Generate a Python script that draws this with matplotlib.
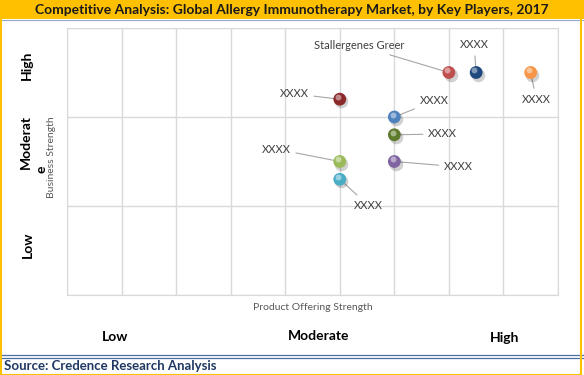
import matplotlib.pyplot as plt
import matplotlib.transforms as mtransforms
from matplotlib.patches import Rectangle
from matplotlib.lines import Line2D

plt.rcParams['font.family'] = ['Lato', 'DejaVu Sans']

# data: product offering strength (x) vs business strength (y)
names = ['Stallergenes Greer', 'XXXX', 'XXXX', 'XXXX', 'XXXX', 'XXXX', 'XXXX', 'XXXX', 'XXXX']
x_vals = [7.0, 7.5, 8.5, 5.0, 6.0, 6.0, 6.0, 5.0, 5.0]
y_vals = [2.5, 2.5, 2.5, 2.2, 2.0, 1.8, 1.5, 1.5, 1.3]
colors = ['#C0504D', '#1F497D', '#F79646', '#8B2A2A', '#4F81BD', '#5E7A2C', '#8064A2', '#9BBB59', '#4BACC6']
label_x = [6.19, 7.46, 8.60, 4.16, 6.73, 6.89, 7.18, 3.83, 5.52]
label_y = [2.80, 2.81, 2.20, 2.26, 2.18, 1.81, 1.44, 1.64, 1.01]
label_ha = ['right', 'center', 'center', 'center', 'center', 'center', 'center', 'center', 'center']

fig = plt.figure(figsize=(5.84, 3.75), dpi=100)
W, H = 584, 375

ax = fig.add_axes([67 / W, (H - 295) / H, (558 - 67) / W, (295 - 28) / H])
ax.set_xlim(0, 9)
ax.set_ylim(0, 3)
ax.set_xticks(range(0, 10))
ax.set_yticks(range(0, 4))
ax.tick_params(length=0, labelbottom=False, labelleft=False)
ax.grid(True, color='#D9D9D9', linewidth=1)
for s in ax.spines.values():
    s.set_color('#D9D9D9')
ax.set_axisbelow(True)

# leader lines + labels
for n, xv, yv, lx, ly, ha in zip(names, x_vals, y_vals, label_x, label_y, label_ha):
    ax.annotate(n, xy=(xv, yv), xytext=(lx, ly), ha=ha, va='center',
                fontsize=8, color='#404040',
                arrowprops=dict(arrowstyle='-', color='#A6A6A6', lw=0.8,
                                shrinkA=2, shrinkB=0))

# spheres: shadow, body, highlight
shadow = mtransforms.offset_copy(ax.transData, fig=fig, x=1.2, y=-1.5, units='points')
ax.scatter(x_vals, y_vals, s=95, color='#000000', alpha=0.18, transform=shadow, zorder=3, linewidths=0)
ax.scatter(x_vals, y_vals, s=85, c=colors, edgecolors='none', zorder=4)
hl = mtransforms.offset_copy(ax.transData, fig=fig, x=-1.2, y=1.5, units='points')
ax.scatter(x_vals, y_vals, s=18, color='white', alpha=0.45, transform=hl, zorder=5, linewidths=0)

# axis titles
fig.text(313 / W, 1 - 308 / H, 'Product Offering Strength', ha='center', va='center',
         fontsize=7.5, color='#595959')
fig.text(52 / W, 1 - 157 / H, 'Business Strength', ha='center', va='center',
         rotation=90, fontsize=7.5, color='#595959')

# level labels
fig.text(27 / W, 1 - 65 / H, 'High', ha='center', va='center', rotation=90,
         fontsize=10, fontweight='bold')
fig.text(26 / W, 1 - 142 / H, 'Moderat', ha='center', va='center', rotation=90,
         fontsize=10, fontweight='bold')
fig.text(42 / W, 1 - 169 / H, 'e', ha='center', va='center', rotation=90,
         fontsize=10, fontweight='bold')
fig.text(28 / W, 1 - 245 / H, 'Low', ha='center', va='center', rotation=90,
         fontsize=10, fontweight='bold')
fig.text(115 / W, 1 - 337 / H, 'Low', ha='center', va='center', fontsize=10, fontweight='bold')
fig.text(319 / W, 1 - 336 / H, 'Moderate', ha='center', va='center', fontsize=10, fontweight='bold')
fig.text(505 / W, 1 - 338 / H, 'High', ha='center', va='center', fontsize=10, fontweight='bold')

# title bar
fig.patches.append(Rectangle((0, 1 - 19 / H), 1, 19 / H, transform=fig.transFigure,
                             facecolor='#FFC000', edgecolor='none', zorder=0))
fig.lines.append(Line2D([0, 1], [1 - 19.5 / H, 1 - 19.5 / H], transform=fig.transFigure,
                        color='#8FA8C8', lw=0.8))
fig.text(0.5, 1 - 10 / H, 'Competitive Analysis: Global Allergy Immunotherapy Market, by Key Players, 2017',
         ha='center', va='center', fontsize=10, fontweight='bold', color='#1a1a1a')

# source footer
for yy in (355, 358):
    fig.lines.append(Line2D([0, 1], [1 - yy / H, 1 - yy / H], transform=fig.transFigure,
                            color='#4A6FA5', lw=0.9))
fig.text(4 / W, 1 - 366 / H, 'Source: Credence Research Analysis', ha='left', va='center',
         fontsize=9.5, fontweight='bold', color='#1F3864')

# outer gold frame
fig.patches.append(Rectangle((0.5 / W, 0.5 / H), 1 - 3.5 / W, 1 - 1 / H, transform=fig.transFigure,
                             facecolor='none', edgecolor='#FFC000', lw=1.5, zorder=10))

fig.savefig('out.png', dpi=100)
